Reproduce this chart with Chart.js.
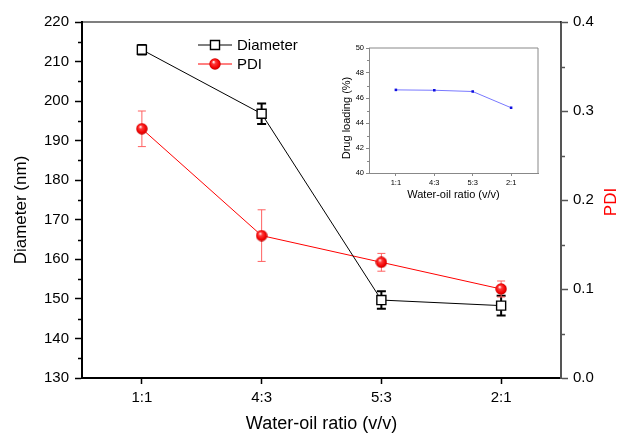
<!DOCTYPE html>
<html>
<head>
<meta charset="utf-8">
<script src="https://cdn.jsdelivr.net/npm/chart.js@4.4.1/dist/chart.umd.min.js"></script>
<style>
    html, body { margin: 0; padding: 0; background: #fff; }
    #wrap { position: relative; width: 625px; height: 435px; }
    #main { position: absolute; left: 0; top: 0; }
    #inset { position: absolute; left: 318px; top: 36px; }
</style>
</head>
<body>
<div id="wrap">
    <canvas id="main" width="625" height="435"></canvas>
    <canvas id="inset" width="224" height="168"></canvas>
</div>
<script>
const ratios = ['1:1', '4:3', '5:3', '2:1'];
const diameter = [213.0, 196.8, 149.7, 148.3];
const diameterErr = [1.2, 2.6, 2.2, 2.5];
const pdi = [0.280, 0.160, 0.130, 0.100];
const pdiErr = [0.020, 0.029, 0.010, 0.009];
const drugLoading = [46.65, 46.62, 46.52, 45.22];

const FONT = '"Liberation Sans", Arial, sans-serif';

// shaded red ball used as the PDI marker
function makeBall(size) {
    const c = document.createElement('canvas');
    c.width = size;
    c.height = size;
    const g = c.getContext('2d');
    const r = size / 2;
    const grad = g.createRadialGradient(r * 0.75, r * 0.65, 0.5, r, r, r);
    grad.addColorStop(0, '#ffe0e0');
    grad.addColorStop(0.25, '#ff3a3a');
    grad.addColorStop(0.75, '#f00000');
    grad.addColorStop(1, '#b30000');
    g.fillStyle = grad;
    g.beginPath();
    g.arc(r, r, r - 0.3, 0, Math.PI * 2);
    g.fill();
    return c;
}
const ball = makeBall(12);

// error bars, minor ticks, frame lines, rotated titles and the in-plot legend
const extras = {
    id: 'extras',
    beforeDatasetsDraw(chart) {
        const ctx = chart.ctx;
        chart.data.datasets.forEach(function (ds, i) {
            if (!ds.errors) return;
            const meta = chart.getDatasetMeta(i);
            const ys = chart.scales[ds.yAxisID];
            ctx.save();
            ctx.strokeStyle = ds.errorColor;
            ctx.lineWidth = ds.errorWidth;
            meta.data.forEach(function (pt, j) {
                const top = ys.getPixelForValue(ds.data[j] + ds.errors[j]);
                const bot = ys.getPixelForValue(ds.data[j] - ds.errors[j]);
                const c = ds.capHalf;
                ctx.beginPath();
                ctx.moveTo(pt.x, top); ctx.lineTo(pt.x, bot);
                ctx.moveTo(pt.x - c, top); ctx.lineTo(pt.x + c, top);
                ctx.moveTo(pt.x - c, bot); ctx.lineTo(pt.x + c, bot);
                ctx.stroke();
            });
            ctx.restore();
        });
    },
    afterDraw(chart, args, opts) {
        const ctx = chart.ctx;
        const area = chart.chartArea;
        ctx.save();

        (opts.minor || []).forEach(function (m) {
            const s = chart.scales[m.axis];
            const t = s.ticks.map(function (k) { return k.value; });
            ctx.strokeStyle = m.color;
            ctx.lineWidth = m.width;
            for (let k = 0; k < t.length - 1; k++) {
                const p = Math.round(s.getPixelForValue((t[k] + t[k + 1]) / 2)) + 0.5;
                ctx.beginPath();
                if (s.position === 'left') {
                    ctx.moveTo(s.right - m.len, p); ctx.lineTo(s.right, p);
                } else if (s.position === 'right') {
                    ctx.moveTo(s.left, p); ctx.lineTo(s.left + m.len, p);
                }
                ctx.stroke();
            }
        });

        (opts.frame || []).forEach(function (f) {
            ctx.strokeStyle = f.color;
            ctx.lineWidth = f.width;
            ctx.beginPath();
            if (f.side === 'top') {
                ctx.moveTo(area.left, area.top); ctx.lineTo(area.right, area.top);
            } else if (f.side === 'right') {
                ctx.moveTo(area.right, area.top); ctx.lineTo(area.right, area.bottom);
            }
            ctx.stroke();
        });

        (opts.titles || []).forEach(function (t) {
            ctx.save();
            ctx.translate(t.x, t.y);
            ctx.rotate(-Math.PI / 2);
            ctx.font = t.size + 'px ' + FONT;
            ctx.fillStyle = t.color;
            ctx.textAlign = 'center';
            ctx.textBaseline = 'middle';
            ctx.fillText(t.text, 0, 0);
            ctx.restore();
        });

        if (opts.legend) {
            const L = opts.legend;
            chart.data.datasets.forEach(function (ds, i) {
                const y = L.y + i * L.gap;
                ctx.strokeStyle = ds.borderColor;
                ctx.lineWidth = 1;
                ctx.beginPath();
                ctx.moveTo(L.x, y); ctx.lineTo(L.x + L.lineLen, y);
                ctx.stroke();
                ctx.fillStyle = ds.pointBackgroundColor;
                ctx.strokeStyle = ds.pointBorderColor;
                ctx.lineWidth = ds.pointBorderWidth;
                Chart.helpers.drawPoint(ctx, {
                    pointStyle: ds.pointStyle,
                    radius: ds.pointRadius,
                    rotation: 0,
                    borderWidth: ds.pointBorderWidth
                }, L.x + L.lineLen / 2, y);
                ctx.font = L.size + 'px ' + FONT;
                ctx.fillStyle = '#000';
                ctx.textAlign = 'left';
                ctx.textBaseline = 'middle';
                ctx.fillText(ds.label, L.x + L.lineLen + 5, y + 1);
            });
        }
        ctx.restore();
    }
};

new Chart(document.getElementById('main'), {
    type: 'line',
    data: {
        labels: ratios,
        datasets: [
            {
                label: 'Diameter',
                data: diameter,
                yAxisID: 'y',
                borderColor: '#000',
                borderWidth: 1,
                pointStyle: 'rect',
                pointRadius: 6.4,
                pointBorderWidth: 1.4,
                pointBorderColor: '#000',
                pointBackgroundColor: '#fff',
                errors: diameterErr,
                errorColor: '#000',
                errorWidth: 2,
                capHalf: 4.5
            },
            {
                label: 'PDI',
                data: pdi,
                yAxisID: 'y1',
                borderColor: '#ff0000',
                borderWidth: 1,
                pointStyle: ball,
                pointRadius: 6,
                pointBorderWidth: 0,
                pointBorderColor: '#ff0000',
                pointBackgroundColor: '#ff0000',
                errors: pdiErr,
                errorColor: '#ff6060',
                errorWidth: 1,
                capHalf: 4
            }
        ]
    },
    options: {
        responsive: false,
        animation: false,
        events: [],
        layout: { padding: { top: 22, right: 0, bottom: 0, left: 0 } },
        plugins: {
            legend: { display: false },
            tooltip: { enabled: false },
            extras: {
                minor: [
                    { axis: 'y', len: 4, width: 1.5, color: '#000' },
                    { axis: 'y1', len: 4, width: 1.5, color: '#555' }
                ],
                frame: [{ side: 'top', color: '#000', width: 1.2 }],
                titles: [
                    { text: 'Diameter (nm)', x: 21, y: 210, size: 17, color: '#000' },
                    { text: 'PDI', x: 611, y: 202, size: 17, color: '#ff0000' }
                ],
                legend: { x: 198, y: 45, gap: 19, lineLen: 34, size: 15 }
            }
        },
        scales: {
            x: {
                type: 'category',
                offset: true,
                afterFit: function (s) { s.height = 57; },
                border: { color: '#000', width: 2 },
                grid: { drawOnChartArea: false, tickLength: 6, tickColor: '#000', tickWidth: 1.5 },
                ticks: { color: '#000', padding: 5, font: { family: FONT, size: 15 } },
                title: {
                    display: true,
                    text: 'Water-oil ratio (v/v)',
                    color: '#000',
                    font: { family: FONT, size: 18 },
                    padding: { top: 0, bottom: 0 }
                }
            },
            y: {
                position: 'left',
                min: 130,
                max: 220,
                afterFit: function (s) { s.width = 82; },
                border: { color: '#000', width: 2 },
                grid: { drawOnChartArea: false, tickLength: 7, tickColor: '#000', tickWidth: 1.5 },
                ticks: { stepSize: 10, color: '#000', padding: 6, font: { family: FONT, size: 15 } }
            },
            y1: {
                position: 'right',
                min: 0,
                max: 0.4,
                afterFit: function (s) { s.width = 64; },
                border: { color: '#555', width: 2 },
                grid: { drawOnChartArea: false, tickLength: 7, tickColor: '#555', tickWidth: 1.5 },
                ticks: {
                    stepSize: 0.1,
                    color: '#000',
                    padding: 5,
                    font: { family: FONT, size: 15 },
                    callback: function (v) { return v.toFixed(1); }
                }
            }
        }
    },
    plugins: [extras]
});

// inset: drug loading against the same ratios
new Chart(document.getElementById('inset'), {
    type: 'line',
    data: {
        datasets: [{
            label: 'Drug loading',
            data: drugLoading.map(function (v, i) { return { x: i, y: v }; }),
            yAxisID: 'y',
            borderColor: '#7878ff',
            borderWidth: 1,
            pointStyle: 'rect',
            pointRadius: 1.8,
            pointBorderWidth: 0,
            pointBackgroundColor: '#1010e0'
        }]
    },
    options: {
        responsive: false,
        animation: false,
        events: [],
        layout: { padding: { top: 12, right: 4, bottom: 0, left: 0 } },
        plugins: {
            legend: { display: false },
            tooltip: { enabled: false },
            extras: {
                minor: [{ axis: 'y', len: 2, width: 1, color: '#888' }],
                frame: [
                    { side: 'top', color: '#888', width: 1 },
                    { side: 'right', color: '#888', width: 1 }
                ],
                titles: [{ text: 'Drug loading (%)', x: 29, y: 82, size: 11, color: '#000' }]
            }
        },
        scales: {
            x: {
                type: 'linear',
                min: -0.7,
                max: 3.7,
                afterFit: function (s) { s.height = 31; },
                afterBuildTicks: function (s) {
                    s.ticks = ratios.map(function (_, i) { return { value: i }; });
                },
                border: { color: '#888', width: 1 },
                grid: { drawOnChartArea: false, tickLength: 3, tickColor: '#888', tickWidth: 1 },
                ticks: {
                    color: '#000',
                    padding: 2,
                    autoSkip: false,
                    maxRotation: 0,
                    font: { family: FONT, size: 7.5 },
                    callback: function (v) { return ratios[v]; }
                },
                title: {
                    display: true,
                    text: 'Water-oil ratio (v/v)',
                    color: '#000',
                    font: { family: FONT, size: 11 },
                    padding: { top: 0, bottom: 2 }
                }
            },
            y: {
                min: 40,
                max: 50,
                afterFit: function (s) { s.width = 51; },
                border: { color: '#888', width: 1 },
                grid: { drawOnChartArea: false, tickLength: 3, tickColor: '#888', tickWidth: 1 },
                ticks: { stepSize: 2, color: '#000', padding: 2, font: { family: FONT, size: 7.5 } }
            }
        }
    },
    plugins: [extras]
});
</script>
</body>
</html>
